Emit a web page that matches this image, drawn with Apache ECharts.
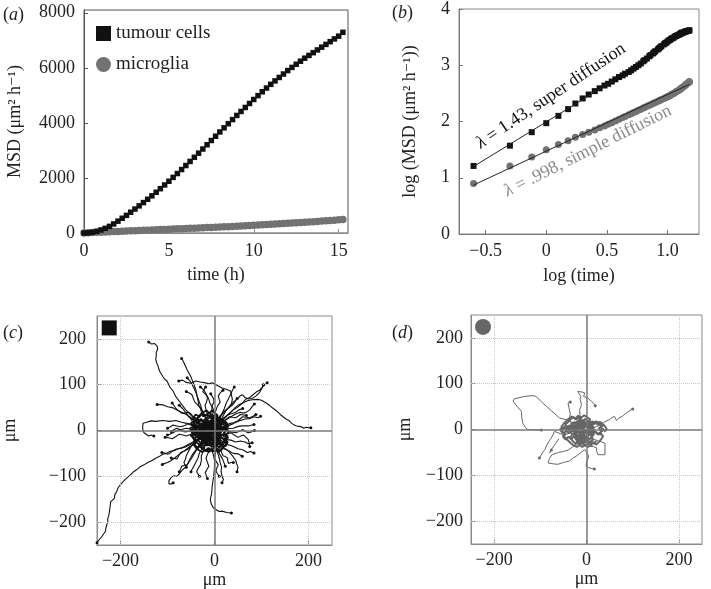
<!DOCTYPE html>
<html><head><meta charset="utf-8">
<script src="https://cdn.jsdelivr.net/npm/echarts@6/dist/echarts.min.js"></script>
<style>html,body{margin:0;padding:0;background:#fff}#c{width:711px;height:589px}</style>
</head><body><div id="c"></div>
<script>
// ---------- Panel (a): MSD vs time ----------
const timeH = [0,0.25,0.5,0.75,1,1.25,1.5,1.75,2,2.25,2.5,2.75,3,3.25,3.5,3.75,4,4.25,4.5,4.75,5,5.25,5.5,5.75,6,6.25,6.5,6.75,7,7.25,7.5,7.75,8,8.25,8.5,8.75,9,9.25,9.5,9.75,10,10.25,10.5,10.75,11,11.25,11.5,11.75,12,12.25,12.5,12.75,13,13.25,13.5,13.75,14,14.25,14.5,14.75,15,15.25];
const tumourMSD = [0,8,25,60,110,170,240,330,430,535,640,755,870,985,1105,1225,1350,1480,1610,1745,1880,2020,2160,2305,2450,2600,2750,2900,3050,3205,3360,3515,3670,3820,3970,4120,4270,4415,4560,4705,4850,4990,5130,5265,5400,5525,5650,5775,5900,6015,6130,6240,6350,6450,6550,6650,6750,6850,6950,7050,7150,7290];
const microgliaMSD = [0,8,16,23,31,38,45,52,59,65,72,78,85,91,98,104,111,117,124,130,137,143,150,156,163,169,176,182,189,196,203,210,217,224,231,238,246,254,262,270,278,287,296,305,314,323,332,342,352,362,372,382,392,402,412,422,432,443,454,465,477,490];
const xTicksA = [0,5,10,15];
const yTicksA = [0,2000,4000,6000,8000];

// ---------- Panel (b): log-log ----------
const logTime = [-0.60,-0.30,-0.12,0.00,0.10,0.18,0.24,0.30,0.35,0.40,0.44,0.48,0.51,0.54,0.57,0.60,0.63,0.65,0.68,0.70,0.72,0.74,0.76,0.78,0.80,0.81,0.83,0.85,0.86,0.88,0.89,0.90,0.92,0.93,0.94,0.95,0.97,0.98,0.99,1.00,1.01,1.02,1.03,1.04,1.05,1.06,1.07,1.08,1.09,1.10,1.11,1.11,1.12,1.13,1.14,1.15,1.15,1.16,1.17,1.18,1.18];
const tumourLogMSD = [1.21,1.57,1.81,1.97,2.10,2.22,2.32,2.41,2.48,2.54,2.59,2.64,2.67,2.71,2.75,2.79,2.82,2.85,2.88,2.91,2.94,2.97,3.00,3.03,3.07,3.09,3.12,3.16,3.18,3.21,3.23,3.25,3.28,3.30,3.32,3.34,3.37,3.39,3.40,3.42,3.44,3.45,3.47,3.48,3.49,3.51,3.52,3.53,3.54,3.55,3.56,3.57,3.58,3.58,3.59,3.60,3.60,3.61,3.61,3.62,3.62];
const microgliaLogMSD = [0.90,1.21,1.37,1.50,1.59,1.66,1.72,1.77,1.81,1.85,1.89,1.92,1.95,1.98,2.01,2.04,2.07,2.09,2.12,2.14,2.16,2.18,2.20,2.22,2.24,2.25,2.27,2.29,2.30,2.32,2.33,2.34,2.36,2.37,2.38,2.39,2.41,2.42,2.43,2.44,2.45,2.46,2.48,2.49,2.50,2.51,2.53,2.54,2.55,2.57,2.58,2.59,2.60,2.62,2.63,2.65,2.66,2.67,2.69,2.70,2.71];
const tumourFitX = [-0.60, 0.55];
const tumourFitY = [1.20, 2.72];
const microgliaFitX = [-0.60, 1.18];
const microgliaFitY = [0.87, 2.66];
const xTicksB = [-0.5, 0, 0.5, 1.0];
const xTickLabelsB = ['\u22120.5', '0', '0.5', '1.0'];
const yTicksB = [0,1,2,3,4];

// ---------- Panels (c),(d): trajectories (x, y pairs in µm) ----------
const tumourTracks = [
 [-15,-5,-22,-12,-30,-16,-38,-22,-46,-25,-55,-30,-62,-34,-70,-38,-78,-40,-86,-44,-95,-46,-103,-50,-110,-52,-118,-57,-126,-61,-134,-66,-142,-70,-150,-75,-158,-79,-165,-85,-172,-90,-180,-98,-187,-104,-195,-112,-200,-118,-205,-125,-208,-133,-212,-140,-213,-148,-217,-152,-221,-156,-222,-165,-224,-180,-225,-186,-227,-192,-227,-200,-229,-205,-231,-213,-232,-220,-236,-226,-240,-232,-245,-238,-250,-245],
 [-5,5,4,12,15,20,24,30,35,40,42,48,50,55,60,60,70,65,80,67,92,68,100,66,110,60,117,55,125,48,132,43,140,35,146,30,152,25,158,22,165,15,170,12,175,10,180,9,185,8,190,5,195,7,200,6,205,6],
 [0,10,8,16,20,25,28,34,40,45,48,50,60,60,66,68,75,72,82,78,90,85,96,88,100,92,104,97,108,100,112,104],
 [5,20,14,33,30,50,40,62,50,70,55,76,60,78,65,72,72,69,80,70,88,75,95,82,100,90,104,100],
 [-20,10,-30,16,-40,24,-50,33,-62,46,-72,60,-83,75,-88,86,-95,95,-101,108,-106,112,-110,118,-115,126,-118,133,-120,140,-123,148,-125,155,-124,163,-124,170,-121,178,-122,184,-128,190,-134,189,-140,193],
 [-15,15,-20,30,-26,42,-33,53,-36,70,-40,90,-45,104,-51,119,-58,132,-62,141,-66,150,-70,157],
 [-10,10,-18,26,-25,40,-30,56,-35,70,-40,84,-45,95,-52,108,-58,115],
 [-10,10,0,20,10,30,20,41,30,50,36,58,38,68,36,78,34,86,25,90,16,93,5,99,-5,104,-12,102,-19,104,-30,106,-40,108,-50,103,-60,105,-68,110,-76,108],
 [-5,5,-2,18,-3,30,-6,42,-5,55,-1,62,-2,70,-8,80],
 [-20,0,-33,6,-45,10,-57,15,-70,18,-82,22,-95,20,-110,22,-125,20,-135,21,-145,18,-152,16,-155,13,-153,6,-152,0,-150,-5,-148,-9,-140,-12,-135,-10,-129,-12],
 [-15,5,-27,12,-40,20,-50,28,-60,35,-70,40,-80,45,-90,50,-100,52,-110,56,-122,57],
 [-20,-20,-30,-33,-40,-45,-47,-58,-55,-70,-62,-80,-70,-88,-75,-95,-80,-100,-86,-99,-92,-102,-97,-110,-97,-116,-92,-117,-88,-114],
 [-20,-10,-33,-20,-45,-30,-55,-37,-65,-45,-75,-52,-85,-60,-93,-66,-100,-70,-111,-74],
 [-10,-20,-8,-33,-5,-45,-2,-55,0,-65,0,-80,-1,-93,-3,-108,-5,-122,-6,-137,-9,-151,-7,-160,-3,-168,2,-172,5,-175,10,-177,16,-176,26,-179,36,-180],
 [5,-10,15,-16,25,-20,35,-21,45,-25,55,-23,65,-25,72,-29,80,-27],
 [5,-15,15,-22,25,-30,38,-34,50,-40,60,-42,70,-48,77,-46,84,-49],
 [0,-20,10,-31,20,-40,30,-44,40,-50,50,-51,59,-56],
 [0,-30,6,-46,10,-60,12,-70,15,-80,14,-90,16,-100,19,-107,16,-114],
 [0,-25,5,-38,10,-50,17,-62,23,-78],
 [10,5,25,9,40,15,52,21,65,25,75,26,85,30,92,28,98,31],
 [10,0,25,4,40,5,50,9,60,10,72,10,84,13],
 [-30,-15,-40,-25,-50,-35,-55,-45,-60,-55,-62,-63,-65,-70,-63,-75,-60,-80],
 [-20,-10,-35,-20,-50,-30,-62,-36,-75,-40,-82,-41,-90,-45,-95,-50,-100,-52,-106,-49,-112,-48],
 [-20,5,-30,12,-40,20,-48,24,-55,30,-58,35,-62,40,-68,48,-75,55],
 [5,10,10,22,15,35,21,48,25,60,30,70,35,80,38,88,42,95],
 [10,15,22,22,35,30,45,36,55,40,60,38,66,39,70,42,75,45,80,52,85,58],
 [-5,10,-2,25,0,40,-4,50,-10,60,-12,68,-15,75,-20,80,-25,85,-22,90,-19,95],
 [-25,-5,-40,0,-50,3,-60,5,-70,2,-80,0,-90,-6,-100,-10],
 [-15,-25,-22,-35,-30,-45,-33,-52,-35,-60,-40,-70,-45,-80,-48,-85,-50,-90],
 [5,-25,18,-36,30,-45,38,-55,45,-65,47,-72,50,-80,48,-90],
 [10,20,20,28,30,35,38,37,45,40,52,45,60,48],
 [-30,20,-38,26,-45,30,-50,36,-55,40,-62,38,-70,38,-76,43,-82,48,-86,54,-90,60],
 [-35,10,-45,12,-55,15,-63,11,-72,8,-80,10,-88,12,-94,8,-100,5],
 [-40,-5,-50,-8,-60,-12,-67,-10,-75,-8,-82,-13,-90,-18,-98,-16,-105,-15],
 [-30,-30,-38,-40,-45,-50,-49,-56,-52,-62,-55,-68,-58,-75,-64,-76,-70,-78,-72,-84,-75,-90],
 [-20,-35,-24,-45,-28,-55,-28,-65,-30,-75,-35,-83,-38,-90,-35,-95,-32,-100],
 [10,-35,14,-45,18,-55,23,-57,28,-60,28,-66,30,-72,35,-70,40,-70],
 [20,-10,28,-7,35,-5,42,-10,50,-15,56,-12,62,-10,67,-15,72,-20,74,-28,75,-35],
 [25,0,35,-3,45,-5,52,-2,60,2,66,-2,72,-5,78,-3,85,0],
 [20,20,26,25,32,30,38,29,45,28,50,31,55,35,62,34,68,33],
 [0,30,2,40,5,50,8,56,12,62,10,68,8,75,12,82,18,88],
 [-25,30,-28,40,-30,50,-36,56,-42,62,-45,70,-48,78,-54,82,-60,85],
 [-15,35,-18,45,-20,55,-17,62,-15,70,-18,80,-22,88,-26,92,-30,95],
 [15,25,20,35,25,45,31,50,38,55,43,62,48,70],
 [-45,0,-55,-2,-65,-3,-72,1,-80,5,-86,2,-92,-2],
 [-40,-25,-48,-33,-55,-40,-63,-44,-72,-48,-76,-55,-80,-62,-86,-61,-92,-60],
 [5,-40,2,-50,0,-60,4,-68,8,-75,5,-82,3,-88,6,-94,10,-100],
 [-10,-40,-14,-50,-18,-60,-15,-70,-12,-78,-16,-85,-20,-92,-17,-99,-15,-105],
 [30,15,40,17,48,20,54,25,60,30,68,29,75,28,82,31,88,35]
];
const tumourCoreTracks = [
 [-15,5,-21,11,-27,5,-34,9,-40,2,-45,-6,-39,-13,-44,-21,-37,-27,-30,-32,-23,-26,-17,-33,-9,-29,-3,-36,4,-31,10,-38,16,-30,24,-34,28,-25,21,-19,27,-12,20,-6,26,2,19,8,25,15,17,20,10,15,4,22,-3,16,-10,23],
 [-12,-3,-18,-9,-24,-4,-30,-10,-36,-4,-42,-10,-48,-3,-52,5,-45,9,-50,17,-42,21,-35,16,-29,23,-22,17,-15,22,-9,15,-2,21,5,14,11,20,18,13,24,19,30,11,25,4,31,-3,24,-9,29,-16,21,-20,14,-14,7,-20,0,-13],
 [-18,-4,-24,2,-18,8,-25,14,-19,21,-12,27,-5,33,-12,38,-19,33,-26,38,-32,31,-38,26,-32,20,-39,14,-45,8,-39,2,-45,-5,-51,-11,-44,-15,-38,-21,-31,-17,-25,-23,-18,-19,-12,-25,-5,-20,2,-26,8,-21,15,-27,21,-22,27,-28],
 [-12,-2,-7,-9,-15,-13,-19,-6,-25,-11,-21,-19,-13,-23,-6,-17,1,-22,-3,-29,-11,-33,-18,-28,-24,-34,-30,-27,-36,-20,-31,-12,-38,-7,-33,0,-26,4,-19,0,-14,7,-7,3,-1,10,-8,15,-16,12],
 [-10,-5,-3,-1,2,-8,9,-4,14,-11,8,-16,12,-23,5,-27,-2,-22,-8,-28,-14,-22,-21,-26,-27,-19,-22,-13,-29,-8,-24,-1,-31,5,-25,11,-18,8,-12,14,-5,11,0,17,6,12,11,18,16,11],
 [-14,3,-20,-3,-16,-10,-23,-15,-17,-21,-24,-27,-18,-32,-11,-29,-5,-35,1,-30,-4,-24,3,-19,-3,-13,4,-8,-2,-3,5,2,-1,7,-8,4,-13,10,-20,6,-27,10,-33,5,-39,9,-44,2,-38,-4],
 [-8,-12,-13,-7,-7,-2,-13,3,-19,-2,-24,5,-18,10,-24,16,-17,21,-11,17,-5,23,1,18,-4,12,3,7,9,11,14,4,8,-1,13,-7,7,-11,11,-18,4,-21,-2,-16,-7,-21,-13,-17,-19,-22],
 [-16,-8,-21,-2,-27,-6,-33,-1,-29,6,-35,12,-28,16,-22,12,-16,17,-10,11,-15,5,-9,0,-3,-5,-9,-10,-4,-16,-10,-21,-16,-16,-22,-21,-17,-27,-10,-31,-4,-26,2,-32,8,-27,14,-31,19,-25],
 [-11,1,-6,-5,-12,-9,-6,-15,-13,-19,-19,-14,-25,-18,-30,-12,-26,-5,-32,1,-26,7,-20,3,-15,9,-9,5,-4,11,2,6,7,12,12,6,6,1,11,-5,5,-10,-1,-6,-6,-1,-1,4,4,-1],
 [-13,-4,-18,2,-12,7,-18,13,-24,9,-30,15,-36,10,-31,3,-37,-3,-42,-10,-36,-15,-30,-10,-25,-16,-19,-12,-14,-18,-8,-13,-2,-19,3,-13,9,-17,14,-10,8,-5,13,2,7,6,1,2,-5,7],
 [-9,-1,-15,-6,-11,-13,-17,-18,-23,-13,-28,-19,-33,-14,-29,-7,-34,-1,-40,4,-35,10,-29,6,-23,11,-17,6,-12,12,-6,7,-1,13,5,8,10,14,15,8,9,3,14,-3,8,-8,2,-4,-4,-9],
 [-12,6,-6,1,-1,-5,-7,-10,-2,-16,-8,-21,-14,-16,-20,-20,-26,-14,-21,-8,-27,-3,-22,3,-28,8,-22,14,-16,10,-10,15,-4,10,2,15,8,9,3,4,9,-2,4,-8,10,-13,16,-8,21,-14],
 [-7,-7,-13,-12,-19,-7,-14,-1,-20,4,-26,-1,-31,4,-27,11,-21,16,-15,12,-9,17,-3,12,-8,6,-2,1,4,6,10,1,5,-5,11,-10,6,-16,0,-11,-6,-16,-11,-22,-17,-27,-23,-22,-29,-26],
 [-20,-20,-27,-26,-33,-33,-27,-39,-20,-44,-13,-38,-6,-43,0,-37,-5,-31,1,-26,7,-31,13,-26,8,-20,14,-15,20,-20,25,-13,19,-7,24,0,18,5,12,0],
 [-18,15,-24,21,-18,27,-11,33,-5,28,1,34,7,28,2,22,8,17,13,22,18,16,12,11,6,15,0,10,-6,16,-12,21,-17,15,-23,20,-29,25,-35,20,-41,25,-46,18,-40,12,-45,5,-50,-2],
 [-30,-5,-36,-11,-42,-6,-48,-12,-44,-19,-38,-24,-43,-31,-37,-37,-30,-33,-24,-39,-18,-45,-11,-41,-4,-46,3,-42,9,-47,15,-41,20,-35,26,-29,21,-23,27,-17],
 [0,0,6,6,12,2,18,8,24,3,29,9,25,16,19,21,13,26,7,22,1,28,-5,24,-10,30,-16,35,-22,31,-28,36,-34,31,-40,35,-45,28,-50,22],
 [-48,10,-42,18,-36,26,-30,33,-24,40,-17,44,-11,38,-5,44,1,38,7,33,2,27,8,21,14,26,20,20,26,14,22,7,28,0],
 [-45,-30,-40,-37,-33,-43,-26,-47,-19,-42,-12,-47,-6,-42,0,-46,6,-40,12,-44,18,-38,14,-32,20,-26,25,-19,28,-10],
 [-50,-5,-44,-1,-38,-6,-32,-1,-26,-6,-20,-1,-14,-6,-8,-1,-2,-6,4,-1,10,-6,16,-1,22,4,27,10]
];
const microgliaTracks = [
 [-20,10,-40,20,-58,25,-75,40,-95,58,-109,72,-116,74,-135,72,-156,67,-159,62,-150,50,-141,40,-140,25,-138,14,-132,4,-127,0,-110,-1,-98,-1],
 [-5,5,-8,12,-10,20,-14,30,-15,43,-11,52,-12,60,-14,66,-12,72,-19,83,-10,82,-4,80,-6,72,3,69,10,62,15,58,19,52],
 [-30,5,-34,15,-37,25,-35,34,-37,43,-40,58,-35,60],
 [10,0,20,6,30,10,40,17,50,22,60,29,65,20,70,25,78,29,86,36,92,40,96,43,100,45],
 [-40,-10,-55,-10,-69,-4,-72,-10,-76,-18,-82,-27,-87,-36,-90,-44,-95,-50,-98,-56,-102,-62],
 [-20,-30,-30,-38,-40,-45,-50,-48,-60,-50,-75,-55,-80,-63,-83,-73,-72,-75,-62,-76,-50,-72,-37,-69,-30,-63,-22,-58,-12,-50,-4,-44,2,-52,5,-60,0,-70,-1,-80,4,-83,10,-85,17,-86],
 [10,-20,18,-22,25,-25,32,-27,40,-30,40,-42,40,-55,32,-55,25,-55,22,-48,22,-40,16,-38,10,-35],
 [-60,-20,-65,-28,-70,-35,-75,-42,-80,-51,-76,-45]
];
const microgliaCoreTracks = [
 [-10,-2,-5,-8,-12,-12,-17,-5,-24,-9,-20,-17,-12,-21,-5,-15,2,-20,-2,-27,-10,-31,-17,-26,-23,-32,-30,-25,-35,-18,-30,-10,-37,-5,-32,2,-25,6,-18,2,-13,9,-6,5,0,12,-7,17,-15,14],
 [-8,-5,-1,-1,4,-8,11,-4,16,-11,10,-16,14,-23,7,-27,0,-22,-6,-28,-12,-22,-19,-26,-25,-19,-20,-13,-27,-8,-22,-1,-29,5,-23,11,-16,8,-10,14,-3,11,2,17,8,12,13,18,18,11],
 [-12,3,-18,-3,-14,-10,-21,-15,-15,-21,-22,-27,-16,-32,-9,-29,-3,-35,3,-30,-2,-24,5,-19,-1,-13,6,-8,0,-3,7,2,1,7,-6,4,-11,10,-18,6,-25,10,-31,5,-37,9,-42,2,-36,-4],
 [-6,-12,-11,-7,-5,-2,-11,3,-17,-2,-22,5,-16,10,-22,16,-15,21,-9,17,-3,23,3,18,-2,12,5,7,11,11,16,4,10,-1,15,-7,9,-11,13,-18,6,-21,0,-16,-5,-21,-11,-17,-17,-22],
 [-14,-8,-19,-2,-25,-6,-31,-1,-27,6,-33,12,-26,16,-20,12,-14,17,-8,11,-13,5,-7,0,-1,-5,-7,-10,-2,-16,-8,-21,-14,-16,-20,-21,-15,-27,-8,-31,-2,-26,4,-32,10,-27,16,-31,21,-25],
 [-20,0,-26,-6,-32,-2,-38,-8,-44,-3,-50,-9,-55,-4,-51,3,-45,8,-39,4,-33,9,-27,14,-21,10,-15,15,-9,11,-3,16,3,12,9,17,15,13,21,18,27,13,32,7,27,2,33,-4,38,2],
 [-5,-3,1,-9,7,-4,13,-10,19,-5,25,-11,30,-6,36,-1,31,5,37,10,31,15,25,11,19,16,13,11,7,16,1,11,-5,16,-11,21,-17,26,-23,22,-29,27,-35,22,-40,16,-46,11,-41,5],
 [-15,-15,-21,-20,-27,-15,-33,-21,-39,-16,-45,-22,-50,-17,-46,-10,-52,-5,-57,1,-51,5,-45,0,-39,4,-33,-1,-27,4,-21,-1,-15,4,-9,-1,-3,-6,3,-1,9,-6,15,-1,21,-6,27,-11,33,-7],
 [-10,5,-4,0,-10,-5,-4,-10,-10,-16,-16,-11,-22,-16,-28,-11,-23,-5,-29,0,-23,5,-17,1,-11,6,-5,11,1,6,7,11,13,6,8,0,14,-5,8,-10,2,-15,-4,-20,-10,-25,-16,-30,-22,-26],
 [-55,5,-50,12,-44,18,-38,24,-31,28,-24,24,-18,30,-11,26,-5,31,2,26,8,22,4,16,10,12,16,17,22,12,28,17,34,12,40,7,44,0,38,-5],
 [-52,-12,-46,-18,-40,-24,-34,-30,-28,-35,-21,-38,-15,-33,-9,-38,-3,-34,3,-38,9,-33,15,-28,21,-33,27,-27,32,-21,36,-14,30,-9],
 [-45,5,-40,-1,-35,5,-30,-1,-25,-7,-20,-2,-15,-8,-10,-3,-5,-9,0,-4,5,-10,10,-5,15,1,10,7,4,2,-2,8,-8,3,-14,9,-20,4,-26,10]
];
const xTicksTrack = [-200, 0, 200];
const xTickLabelsTrack = ['\u2212200', '0', '200'];
const yTicksTrack = [-200, -100, 0, 100, 200];
const yTickLabelsTrack = ['\u2212200', '\u2212100', '0', '100', '200'];
const gridLinesX = [-200, 200];
const gridLinesY = [-200, -100, 100, 200];
const markerPos = [-224, 224];

// ---------- styling ----------
const FONT = "'Liberation Serif','DejaVu Serif',serif";
const TXT = '#222';
const BLACK = '#111';
const GREY = '#727272';

function pairs(flat){ const o=[]; for(let i=0;i+1<flat.length;i+=2) o.push([flat[i],flat[i+1]]); return o; }
function lookup(ticks, labels){ return v => { const i = ticks.findIndex(t => Math.abs(t - v) < 1e-9); return i < 0 ? '' : (labels ? labels[i] : String(ticks[i])); }; }

function axis(gi, min, max, ticks, labels, name, nameGap, isY, lineColor, margin){
  return {
    type:'value', gridIndex:gi, min:min, max:max,
    name:name, nameLocation:'middle', nameGap:nameGap, nameRotate: isY ? 90 : 0,
    nameTextStyle:{fontFamily:FONT, fontSize:18, color:TXT},
    axisLine:{show:true, onZero:false, lineStyle:{color:lineColor, width:1}},
    axisTick:{show:true, inside:true, length:4, customValues:ticks, lineStyle:{color:lineColor}},
    axisLabel:{show:true, customValues:ticks, formatter:lookup(ticks, labels), margin:margin,
               fontFamily:FONT, fontSize:18, color:TXT},
    splitLine:{show:false}
  };
}

const series = [];
// (a)
series.push({type:'scatter', name:'microglia', xAxisIndex:0, yAxisIndex:0, symbol:'circle', symbolSize:7.5,
  itemStyle:{color:GREY, opacity:1}, data: timeH.map((t,i)=>[t, microgliaMSD[i]]), z:2});
series.push({type:'scatter', name:'tumour cells', xAxisIndex:0, yAxisIndex:0, symbol:'rect', symbolSize:5.5,
  itemStyle:{color:BLACK, opacity:1}, data: timeH.map((t,i)=>[t, tumourMSD[i]]), z:3});
// (b)
series.push({type:'line', xAxisIndex:1, yAxisIndex:1, showSymbol:false, symbol:'none',
  lineStyle:{color:'#222', width:1}, data: microgliaFitX.map((x,i)=>[x, microgliaFitY[i]]), z:4});
series.push({type:'line', xAxisIndex:1, yAxisIndex:1, showSymbol:false, symbol:'none',
  lineStyle:{color:'#222', width:1}, data: tumourFitX.map((x,i)=>[x, tumourFitY[i]]), z:4});
series.push({type:'scatter', xAxisIndex:1, yAxisIndex:1, symbol:'circle', symbolSize:7,
  itemStyle:{color:GREY, opacity:1}, data: logTime.map((x,i)=>[x, microgliaLogMSD[i]]), z:3});
series.push({type:'scatter', xAxisIndex:1, yAxisIndex:1, symbol:'rect', symbolSize:6,
  itemStyle:{color:BLACK, opacity:1}, data: logTime.map((x,i)=>[x, tumourLogMSD[i]]), z:3});

function trackPanel(ai, tracks, coreTracks, color, width, coreWidth, markerSymbol, markerSize){
  const ml = [];
  gridLinesX.forEach(v => ml.push({xAxis:v}));
  gridLinesY.forEach(v => ml.push({yAxis:v}));
  ml.push({xAxis:0, lineStyle:{type:'solid', color:'#7a7a7a', width:1.5}});
  ml.push({yAxis:0, lineStyle:{type:'solid', color:'#7a7a7a', width:1.5}});
  series.push({type:'scatter', xAxisIndex:ai, yAxisIndex:ai, symbol:markerSymbol, symbolSize:markerSize,
    itemStyle:{color:color, opacity:1}, data:[markerPos], z:1,
    markLine:{silent:true, symbol:['none','none'], label:{show:false},
      lineStyle:{type:'dotted', color:'#c4c4c4', width:1}, data:ml, animation:false}});
  tracks.forEach(t => series.push({type:'line', xAxisIndex:ai, yAxisIndex:ai, showSymbol:false, symbol:'none',
    silent:true, lineStyle:{color:color, width:width}, data:pairs(t), z:3}));
  coreTracks.forEach(t => series.push({type:'line', xAxisIndex:ai, yAxisIndex:ai, showSymbol:false, symbol:'none',
    silent:true, lineStyle:{color:color, width:coreWidth}, data:pairs(t), z:3}));
  series.push({type:'scatter', xAxisIndex:ai, yAxisIndex:ai, symbol:'circle', symbolSize:3,
    itemStyle:{color:color, opacity:1}, data: tracks.map(t => [t[t.length-2], t[t.length-1]]), z:4});
}
trackPanel(2, tumourTracks, tumourCoreTracks, BLACK, 1.1, 1.8, 'rect', 15);
trackPanel(3, microgliaTracks, microgliaCoreTracks, '#666', 1, 2.0, 'circle', 16);

const option = {
  animation:false,
  backgroundColor:'#fff',
  grid:[
    {left:84, top:10, width:264, height:223, show:true, borderColor:'#555', borderWidth:1, backgroundColor:'transparent', outerBoundsMode:'none'},
    {left:459, top:9, width:240, height:225, show:true, borderColor:'#888', borderWidth:1, backgroundColor:'transparent', outerBoundsMode:'none'},
    {left:97, top:316, width:235, height:229, show:true, borderColor:'#8a8a8a', borderWidth:1, backgroundColor:'transparent', outerBoundsMode:'none'},
    {left:471, top:315, width:231, height:229, show:true, borderColor:'#8a8a8a', borderWidth:1, backgroundColor:'transparent', outerBoundsMode:'none'}
  ],
  xAxis:[
    axis(0, 0, 15.55, xTicksA, null, 'time (h)', 33, false, '#8a8a8a', 9),
    axis(1, -0.72, 1.26, xTicksB, xTickLabelsB, 'log (time)', 33, false, '#777', 8),
    axis(2, -250, 250, xTicksTrack, xTickLabelsTrack, '\u03bcm', 26, false, '#8a8a8a', 7),
    axis(3, -250, 250, xTicksTrack, xTickLabelsTrack, '\u03bcm', 26, false, '#8a8a8a', 7)
  ],
  yAxis:[
    axis(0, 0, 8100, yTicksA, null, 'MSD (\u03bcm\u00b2 h\u207b\u00b9)', 60, true, '#555', 9),
    axis(1, 0, 4, yTicksB, null, 'log (MSD (\u03bcm\u00b2 h\u207b\u00b9))', 40, true, '#777', 9),
    axis(2, -250, 250, yTicksTrack, yTickLabelsTrack, '\u03bcm', 78, true, '#8a8a8a', 11),
    axis(3, -250, 250, yTicksTrack, yTickLabelsTrack, '\u03bcm', 57, true, '#8a8a8a', 8)
  ],
  legend:{
    data:[{name:'tumour cells', icon:'rect'}, {name:'microglia', icon:'circle'}],
    orient:'vertical', left:91, top:19, itemWidth:15, itemHeight:15, itemGap:12,
    textStyle:{fontFamily:FONT, fontSize:19, color:TXT}, selectedMode:false
  },
  graphic:[
    {type:'text', left:3, top:6, style:{text:'({i|a})', rich:{i:{fontStyle:'italic', fontFamily:FONT, fontSize:18, fill:TXT}}, fontFamily:FONT, fontSize:18, fill:TXT}},
    {type:'text', left:392, top:4, style:{text:'({i|b})', rich:{i:{fontStyle:'italic', fontFamily:FONT, fontSize:18, fill:TXT}}, fontFamily:FONT, fontSize:18, fill:TXT}},
    {type:'text', left:3, top:324, style:{text:'({i|c})', rich:{i:{fontStyle:'italic', fontFamily:FONT, fontSize:18, fill:TXT}}, fontFamily:FONT, fontSize:18, fill:TXT}},
    {type:'text', left:392, top:324, style:{text:'({i|d})', rich:{i:{fontStyle:'italic', fontFamily:FONT, fontSize:18, fill:TXT}}, fontFamily:FONT, fontSize:18, fill:TXT}},
    {type:'text', x:551, y:96, rotation:0.59, z:10,
      style:{text:'{i|\u03bb} = 1.43, super diffusion', align:'center', verticalAlign:'middle',
        rich:{i:{fontStyle:'italic', fontFamily:FONT, fontSize:18, fill:'#111'}}, fontFamily:FONT, fontSize:18, fill:'#111'}},
    {type:'text', x:588, y:151, rotation:0.464, z:10,
      style:{text:'{i|\u03bb} = .998, simple diffusion', align:'center', verticalAlign:'middle',
        rich:{i:{fontStyle:'italic', fontFamily:FONT, fontSize:18, fill:'#8a8a8a'}}, fontFamily:FONT, fontSize:18, fill:'#8a8a8a'}}
  ],
  series:series
};
const chart = echarts.init(document.getElementById('c'), null, {renderer:'canvas'});
chart.setOption(option);
</script>
</body></html>
